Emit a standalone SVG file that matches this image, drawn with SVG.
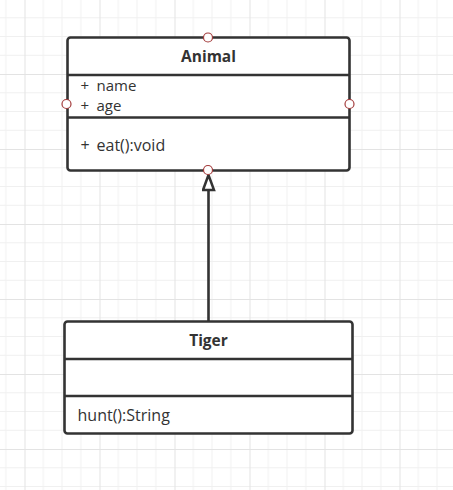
<svg xmlns="http://www.w3.org/2000/svg" width="453" height="490" viewBox="0 0 453 490">
  <defs>
    <pattern id="grid" x="24.5" y="-1" width="75" height="75" patternUnits="userSpaceOnUse">
      <path d="M18.75 0V75M37.5 0V75M56.25 0V75M0 18.75H75M0 37.5H75M0 56.25H75" fill="none" stroke="#f0f0f0" stroke-width="1"/>
      <path d="M0.5 0V75M0 0.5H75" fill="none" stroke="#e3e3e3" stroke-width="1"/>
    </pattern>
    <marker id="inherit" viewBox="0 0 18 14" markerWidth="18" markerHeight="14" refX="1.5" refY="7" orient="auto" markerUnits="userSpaceOnUse">
      <path d="M16.5 7L1.5 1.5V12.5Z" fill="#fff" stroke="#333" stroke-width="2.5" stroke-linejoin="miter"/>
    </marker>
  </defs>
  <style>
    .box { fill: #fff; stroke: #333; stroke-width: 2.6; }
    .sep { stroke: #333; stroke-width: 2.6; }
    .title { font-family: "Open Sans", "Liberation Sans", sans-serif; font-size: 15.5px; font-weight: bold; fill: #333; text-anchor: middle; }
    .member { font-family: "Open Sans", "Liberation Sans", sans-serif; font-size: 16px; fill: #333; }
    .attr { font-size: 15px; }
    .port { fill: #fff; stroke: #a33a3a; stroke-width: 1.2; }
    .edge { fill: none; stroke: #333; stroke-width: 2.6; }
  </style>
  <rect width="453" height="490" fill="#fff"/>
  <rect width="453" height="490" fill="url(#grid)"/>

  <g id="connectors">
    <path class="edge" d="M208.5 321V190" marker-end="url(#inherit)"/>
  </g>

  <g id="animal">
    <rect class="box" x="67.5" y="37.5" width="282" height="133" rx="3"/>
    <line class="sep" x1="67.5" y1="75" x2="349.5" y2="75"/>
    <line class="sep" x1="67.5" y1="117.5" x2="349.5" y2="117.5"/>
    <text class="title" x="208.5" y="62">Animal</text>
    <text class="member attr" x="80.5" y="91">+</text>
    <text class="member attr" x="96.5" y="91">name</text>
    <text class="member attr" x="80.5" y="110.5">+</text>
    <text class="member attr" x="96.5" y="110.5">age</text>
    <text class="member" x="80.5" y="151">+</text>
    <text class="member" x="96.5" y="151">eat():void</text>
    <circle class="port" cx="208" cy="37.5" r="4.5"/>
    <circle class="port" cx="66.5" cy="104" r="4.5"/>
    <circle class="port" cx="349.5" cy="104" r="4.5"/>
    <circle class="port" cx="208" cy="170" r="4.5"/>
  </g>

  <g id="tiger">
    <rect class="box" x="64.5" y="321.5" width="288" height="112" rx="3"/>
    <line class="sep" x1="64.5" y1="359" x2="352.5" y2="359"/>
    <line class="sep" x1="64.5" y1="396" x2="352.5" y2="396"/>
    <text class="title" x="208.5" y="346">Tiger</text>
    <text class="member" x="77.5" y="421">hunt():String</text>
  </g>
</svg>
